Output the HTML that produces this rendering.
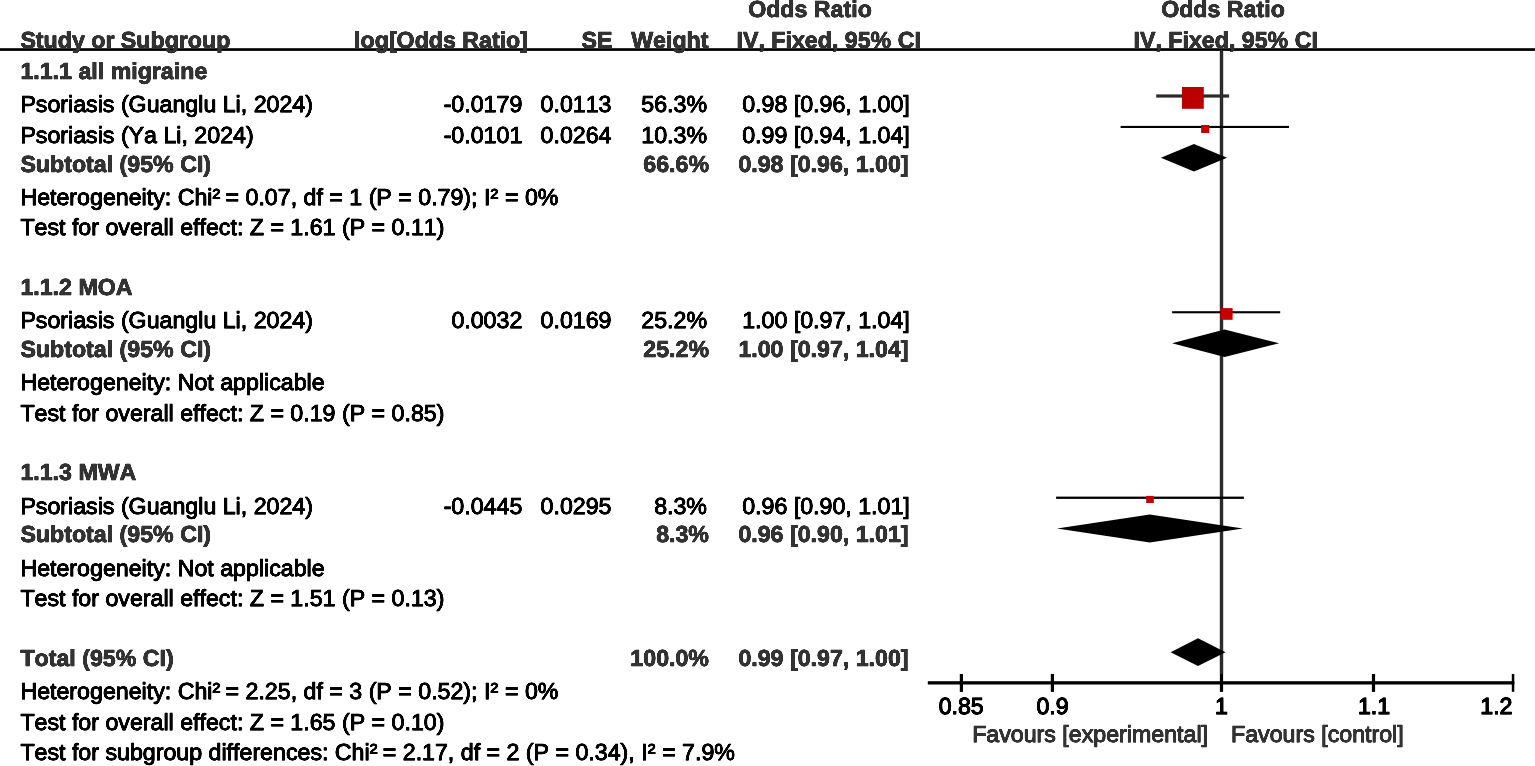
<!DOCTYPE html>
<html lang="en">
<head>
<meta charset="utf-8">
<title>Forest plot</title>
<style>
html,body{margin:0;padding:0;background:#fff;}
body{width:1535px;height:766px;overflow:hidden;}
svg{display:block;}
text{font-family:"Liberation Sans",Arial,Helvetica,sans-serif;white-space:pre;font-kerning:none;text-rendering:geometricPrecision;}
.b{font-weight:bold;}
</style>
</head>
<body>
<svg width="1535" height="766" viewBox="0 0 1535 766">
<rect x="0" y="0" width="1535" height="766" fill="#fff"/>
<g id="shapes">
<rect id="rule" x="0" y="48.2" width="1535" height="2.7" fill="#000"/>
<rect id="vline" x="1219.8" y="50" width="3.4" height="624" fill="#2b2b2b"/>
<rect id="axis" x="927.8" y="681.2" width="586.5" height="3.3" fill="#000"/>
<rect class="tick" x="959.8" y="674" width="3.2" height="17.9" fill="#000"/>
<rect class="tick" x="1050.8" y="674" width="3.2" height="17.9" fill="#000"/>
<rect class="tick" x="1219.9" y="674" width="3.2" height="17.9" fill="#000"/>
<rect class="tick" x="1371.9" y="674" width="3.2" height="17.9" fill="#000"/>
<rect class="tick" x="1511.8" y="674" width="2.5" height="17.8" fill="#000"/>
<rect x="1156.2" y="94.4" width="72.9" height="3.2" fill="#2b2b2b"/>
<rect x="1120.6" y="125.9" width="168.4" height="2.1" fill="#000"/>
<rect x="1172.1" y="311.2" width="108.1" height="2.1" fill="#000"/>
<rect x="1056.1" y="496.6" width="187.8" height="2.3" fill="#000"/>
<rect x="1182" y="87" width="21.8" height="21.8" fill="#bb0000"/>
<rect x="1201.1" y="125" width="8.1" height="8" fill="#c60000"/>
<rect x="1220.3" y="308.1" width="12.3" height="11.7" fill="#c40000"/>
<rect x="1146.2" y="495.9" width="7.6" height="7.1" fill="#c60000"/>
<polygon points="1160.9,157.75 1194,144 1227,157.75 1194,171.5" fill="#000"/>
<polygon points="1172.1,343.25 1224.6,329.5 1279.2,343.25 1224.6,357" fill="#000"/>
<polygon points="1057,528.45 1149.8,514.4 1243,528.45 1149.8,542.5" fill="#000"/>
<polygon points="1170.6,652.15 1198,638.3 1225.6,652.15 1198,666" fill="#000"/>
</g>
<defs><filter id="soft" x="0" y="0" width="1535" height="766" filterUnits="userSpaceOnUse" color-interpolation-filters="sRGB"><feGaussianBlur stdDeviation="0.75 0.3"/><feComponentTransfer><feFuncA type="linear" slope="1.65" intercept="-0.1"/></feComponentTransfer></filter></defs>
<g id="texts" filter="url(#soft)">
<text id="h_or1" class="b" x="810.00" y="0" transform="translate(0 16.90) scale(1 1)" text-anchor="middle" font-size="23.2" fill="#333333" stroke="#333333" stroke-width="0.6">Odds Ratio</text>
<text id="h_or2" class="b" x="1223.00" y="0" transform="translate(0 16.90) scale(1 1)" text-anchor="middle" font-size="23.2" fill="#333333" stroke="#333333" stroke-width="0.6">Odds Ratio</text>
<text id="h_study" class="b" x="20.40" y="0" transform="translate(0 48.40) scale(1 1)" text-anchor="start" font-size="23.2" fill="#333333" stroke="#333333" stroke-width="0.6">Study or Subgroup</text>
<text id="h_log" class="b" x="528.00" y="0" transform="translate(0 48.40) scale(1 1)" text-anchor="end" font-size="23.2" fill="#333333" stroke="#333333" stroke-width="0.6">log[Odds Ratio]</text>
<text id="h_se" class="b" x="612.50" y="0" transform="translate(0 48.40) scale(1 1)" text-anchor="end" font-size="23.2" fill="#333333" stroke="#333333" stroke-width="0.6">SE</text>
<text id="h_w" class="b" x="708.50" y="0" transform="translate(0 48.40) scale(1 1)" text-anchor="end" font-size="23.2" fill="#333333" stroke="#333333" stroke-width="0.6">Weight</text>
<text id="h_iv1" class="b" x="828.70" y="0" transform="translate(0 48.40) scale(1 1)" text-anchor="middle" font-size="23.2" fill="#333333" stroke="#333333" stroke-width="0.6">IV, Fixed, 95% CI</text>
<text id="h_iv2" class="b" x="1225.70" y="0" transform="translate(0 48.40) scale(1 1)" text-anchor="middle" font-size="23.2" fill="#333333" stroke="#333333" stroke-width="0.6">IV, Fixed, 95% CI</text>
<text id="g1" class="b" x="20.40" y="0" transform="translate(0 78.90) scale(1 1)" text-anchor="start" font-size="23.2" fill="#333333" stroke="#333333" stroke-width="0.6">1.1.1 all migraine</text>
<text id="s1_n" x="20.40" y="0" transform="translate(0 112.00) scale(1 1)" text-anchor="start" font-size="23.2" fill="#000000" stroke="#000000" stroke-width="0.75">Psoriasis (Guanglu Li, 2024)</text>
<text id="s1_l" x="522.30" y="0" transform="translate(0 112.00) scale(1 1)" text-anchor="end" font-size="23.2" fill="#000000" stroke="#000000" stroke-width="0.75">-0.0179</text>
<text id="s1_s" x="611.50" y="0" transform="translate(0 112.00) scale(1 1)" text-anchor="end" font-size="23.2" fill="#000000" stroke="#000000" stroke-width="0.75">0.0113</text>
<text id="s1_w" x="707.00" y="0" transform="translate(0 112.00) scale(1 1)" text-anchor="end" font-size="23.2" fill="#000000" stroke="#000000" stroke-width="0.75">56.3%</text>
<text id="s1_c" x="742.20" y="0" transform="translate(0 112.00) scale(1 1)" text-anchor="start" font-size="23.2" fill="#000000" stroke="#000000" stroke-width="0.75">0.98 [0.96, 1.00]</text>
<text id="s2_n" x="20.40" y="0" transform="translate(0 142.50) scale(1 1)" text-anchor="start" font-size="23.2" fill="#000000" stroke="#000000" stroke-width="0.75">Psoriasis (Ya Li, 2024)</text>
<text id="s2_l" x="522.30" y="0" transform="translate(0 142.50) scale(1 1)" text-anchor="end" font-size="23.2" fill="#000000" stroke="#000000" stroke-width="0.75">-0.0101</text>
<text id="s2_s" x="611.50" y="0" transform="translate(0 142.50) scale(1 1)" text-anchor="end" font-size="23.2" fill="#000000" stroke="#000000" stroke-width="0.75">0.0264</text>
<text id="s2_w" x="707.00" y="0" transform="translate(0 142.50) scale(1 1)" text-anchor="end" font-size="23.2" fill="#000000" stroke="#000000" stroke-width="0.75">10.3%</text>
<text id="s2_c" x="742.20" y="0" transform="translate(0 142.50) scale(1 1)" text-anchor="start" font-size="23.2" fill="#000000" stroke="#000000" stroke-width="0.75">0.99 [0.94, 1.04]</text>
<text id="sub1_n" class="b" x="20.40" y="0" transform="translate(0 171.60) scale(1 1)" text-anchor="start" font-size="23.2" fill="#333333" stroke="#333333" stroke-width="0.6">Subtotal (95% CI)</text>
<text id="sub1_w" class="b" x="709.00" y="0" transform="translate(0 171.60) scale(1 1)" text-anchor="end" font-size="23.2" fill="#333333" stroke="#333333" stroke-width="0.6">66.6%</text>
<text id="sub1_c" class="b" x="738.40" y="0" transform="translate(0 171.60) scale(1 1)" text-anchor="start" font-size="23.2" fill="#333333" stroke="#333333" stroke-width="0.6">0.98 [0.96, 1.00]</text>
<text id="het1" x="20.40" y="0" transform="translate(0 204.50) scale(1 1)" text-anchor="start" font-size="23.2" fill="#000000" stroke="#000000" stroke-width="0.75">Heterogeneity: Chi²<tspan dx="-1.1"> </tspan>= 0.07, df = 1 (P = 0.79); I²<tspan dx="0.3"> </tspan>= 0%</text>
<text id="test1" x="20.40" y="0" transform="translate(0 234.80) scale(1 1)" text-anchor="start" font-size="23.2" fill="#000000" stroke="#000000" stroke-width="0.75">Test for overall effect: Z = 1.61 (P = 0.11)</text>
<text id="g2" class="b" x="20.40" y="0" transform="translate(0 294.80) scale(1 1)" text-anchor="start" font-size="23.2" fill="#333333" stroke="#333333" stroke-width="0.6">1.1.2 MOA</text>
<text id="s3_n" x="20.40" y="0" transform="translate(0 327.80) scale(1 1)" text-anchor="start" font-size="23.2" fill="#000000" stroke="#000000" stroke-width="0.75">Psoriasis (Guanglu Li, 2024)</text>
<text id="s3_l" x="522.30" y="0" transform="translate(0 327.80) scale(1 1)" text-anchor="end" font-size="23.2" fill="#000000" stroke="#000000" stroke-width="0.75">0.0032</text>
<text id="s3_s" x="611.50" y="0" transform="translate(0 327.80) scale(1 1)" text-anchor="end" font-size="23.2" fill="#000000" stroke="#000000" stroke-width="0.75">0.0169</text>
<text id="s3_w" x="707.00" y="0" transform="translate(0 327.80) scale(1 1)" text-anchor="end" font-size="23.2" fill="#000000" stroke="#000000" stroke-width="0.75">25.2%</text>
<text id="s3_c" x="742.20" y="0" transform="translate(0 327.80) scale(1 1)" text-anchor="start" font-size="23.2" fill="#000000" stroke="#000000" stroke-width="0.75">1.00 [0.97, 1.04]</text>
<text id="sub2_n" class="b" x="20.40" y="0" transform="translate(0 357.00) scale(1 1)" text-anchor="start" font-size="23.2" fill="#333333" stroke="#333333" stroke-width="0.6">Subtotal (95% CI)</text>
<text id="sub2_w" class="b" x="709.00" y="0" transform="translate(0 357.00) scale(1 1)" text-anchor="end" font-size="23.2" fill="#333333" stroke="#333333" stroke-width="0.6">25.2%</text>
<text id="sub2_c" class="b" x="738.40" y="0" transform="translate(0 357.00) scale(1 1)" text-anchor="start" font-size="23.2" fill="#333333" stroke="#333333" stroke-width="0.6">1.00 [0.97, 1.04]</text>
<text id="het2" x="20.40" y="0" transform="translate(0 390.00) scale(1 1)" text-anchor="start" font-size="23.2" fill="#000000" stroke="#000000" stroke-width="0.75">Heterogeneity: Not applicable</text>
<text id="test2" x="20.40" y="0" transform="translate(0 420.70) scale(1 1)" text-anchor="start" font-size="23.2" fill="#000000" stroke="#000000" stroke-width="0.75">Test for overall effect: Z = 0.19 (P = 0.85)</text>
<text id="g3" class="b" x="20.40" y="0" transform="translate(0 480.20) scale(1 1)" text-anchor="start" font-size="23.2" fill="#333333" stroke="#333333" stroke-width="0.6">1.1.3 MWA</text>
<text id="s4_n" x="20.40" y="0" transform="translate(0 513.60) scale(1 1)" text-anchor="start" font-size="23.2" fill="#000000" stroke="#000000" stroke-width="0.75">Psoriasis (Guanglu Li, 2024)</text>
<text id="s4_l" x="522.30" y="0" transform="translate(0 513.60) scale(1 1)" text-anchor="end" font-size="23.2" fill="#000000" stroke="#000000" stroke-width="0.75">-0.0445</text>
<text id="s4_s" x="611.50" y="0" transform="translate(0 513.60) scale(1 1)" text-anchor="end" font-size="23.2" fill="#000000" stroke="#000000" stroke-width="0.75">0.0295</text>
<text id="s4_w" x="707.00" y="0" transform="translate(0 513.60) scale(1 1)" text-anchor="end" font-size="23.2" fill="#000000" stroke="#000000" stroke-width="0.75">8.3%</text>
<text id="s4_c" x="742.20" y="0" transform="translate(0 513.60) scale(1 1)" text-anchor="start" font-size="23.2" fill="#000000" stroke="#000000" stroke-width="0.75">0.96 [0.90, 1.01]</text>
<text id="sub3_n" class="b" x="20.40" y="0" transform="translate(0 541.90) scale(1 1)" text-anchor="start" font-size="23.2" fill="#333333" stroke="#333333" stroke-width="0.6">Subtotal (95% CI)</text>
<text id="sub3_w" class="b" x="709.00" y="0" transform="translate(0 541.90) scale(1 1)" text-anchor="end" font-size="23.2" fill="#333333" stroke="#333333" stroke-width="0.6">8.3%</text>
<text id="sub3_c" class="b" x="738.40" y="0" transform="translate(0 541.90) scale(1 1)" text-anchor="start" font-size="23.2" fill="#333333" stroke="#333333" stroke-width="0.6">0.96 [0.90, 1.01]</text>
<text id="het3" x="20.40" y="0" transform="translate(0 576.10) scale(1 1)" text-anchor="start" font-size="23.2" fill="#000000" stroke="#000000" stroke-width="0.75">Heterogeneity: Not applicable</text>
<text id="test3" x="20.40" y="0" transform="translate(0 606.00) scale(1 1)" text-anchor="start" font-size="23.2" fill="#000000" stroke="#000000" stroke-width="0.75">Test for overall effect: Z = 1.51 (P = 0.13)</text>
<text id="tot_n" class="b" x="20.40" y="0" transform="translate(0 665.80) scale(1 1)" text-anchor="start" font-size="23.2" fill="#333333" stroke="#333333" stroke-width="0.6">Total (95% CI)</text>
<text id="tot_w" class="b" x="709.00" y="0" transform="translate(0 665.80) scale(1 1)" text-anchor="end" font-size="23.2" fill="#333333" stroke="#333333" stroke-width="0.6">100.0%</text>
<text id="tot_c" class="b" x="738.40" y="0" transform="translate(0 665.80) scale(1 1)" text-anchor="start" font-size="23.2" fill="#333333" stroke="#333333" stroke-width="0.6">0.99 [0.97, 1.00]</text>
<text id="hett" x="20.40" y="0" transform="translate(0 699.30) scale(1 1)" text-anchor="start" font-size="23.2" fill="#000000" stroke="#000000" stroke-width="0.75">Heterogeneity: Chi²<tspan dx="-1.1"> </tspan>= 2.25, df = 3 (P = 0.52); I²<tspan dx="0.3"> </tspan>= 0%</text>
<text id="testt" x="20.40" y="0" transform="translate(0 729.70) scale(1 1)" text-anchor="start" font-size="23.2" fill="#000000" stroke="#000000" stroke-width="0.75">Test for overall effect: Z = 1.65 (P = 0.10)</text>
<text id="testsub" x="20.40" y="0" transform="translate(0 759.90) scale(1 1)" text-anchor="start" font-size="23.2" fill="#000000" stroke="#000000" stroke-width="0.75">Test for subgroup differences: Chi²<tspan dx="-1.1"> </tspan>= 2.17, df = 2 (P = 0.34), I²<tspan dx="0.3"> </tspan>= 7.9%</text>
<text id="ax085" x="961.20" y="0" transform="translate(0 714.20) scale(1 1)" text-anchor="middle" font-size="23.2" fill="#000000" stroke="#000000" stroke-width="0.95">0.85</text>
<text id="ax09" x="1052.60" y="0" transform="translate(0 714.20) scale(1 1)" text-anchor="middle" font-size="23.2" fill="#000000" stroke="#000000" stroke-width="0.95">0.9</text>
<text id="ax1" x="1221.50" y="0" transform="translate(0 714.20) scale(1 1)" text-anchor="middle" font-size="23.2" fill="#000000" stroke="#000000" stroke-width="0.95">1</text>
<text id="ax11" x="1374.00" y="0" transform="translate(0 714.20) scale(1 1)" text-anchor="middle" font-size="23.2" fill="#000000" stroke="#000000" stroke-width="0.95">1.1</text>
<text id="ax12" x="1512.50" y="0" transform="translate(0 714.20) scale(1 1)" text-anchor="end" font-size="23.2" fill="#000000" stroke="#000000" stroke-width="0.95">1.2</text>
<text id="favl" x="1208.00" y="0" transform="translate(0 742.20) scale(1 1)" text-anchor="end" font-size="23.2" fill="#333333" stroke="#333333" stroke-width="0.8">Favours [experimental]</text>
<text id="favr" x="1231.00" y="0" transform="translate(0 742.20) scale(1 1)" text-anchor="start" font-size="23.2" fill="#333333" stroke="#333333" stroke-width="0.8">Favours [control]</text>
</g>
</svg>
</body>
</html>
